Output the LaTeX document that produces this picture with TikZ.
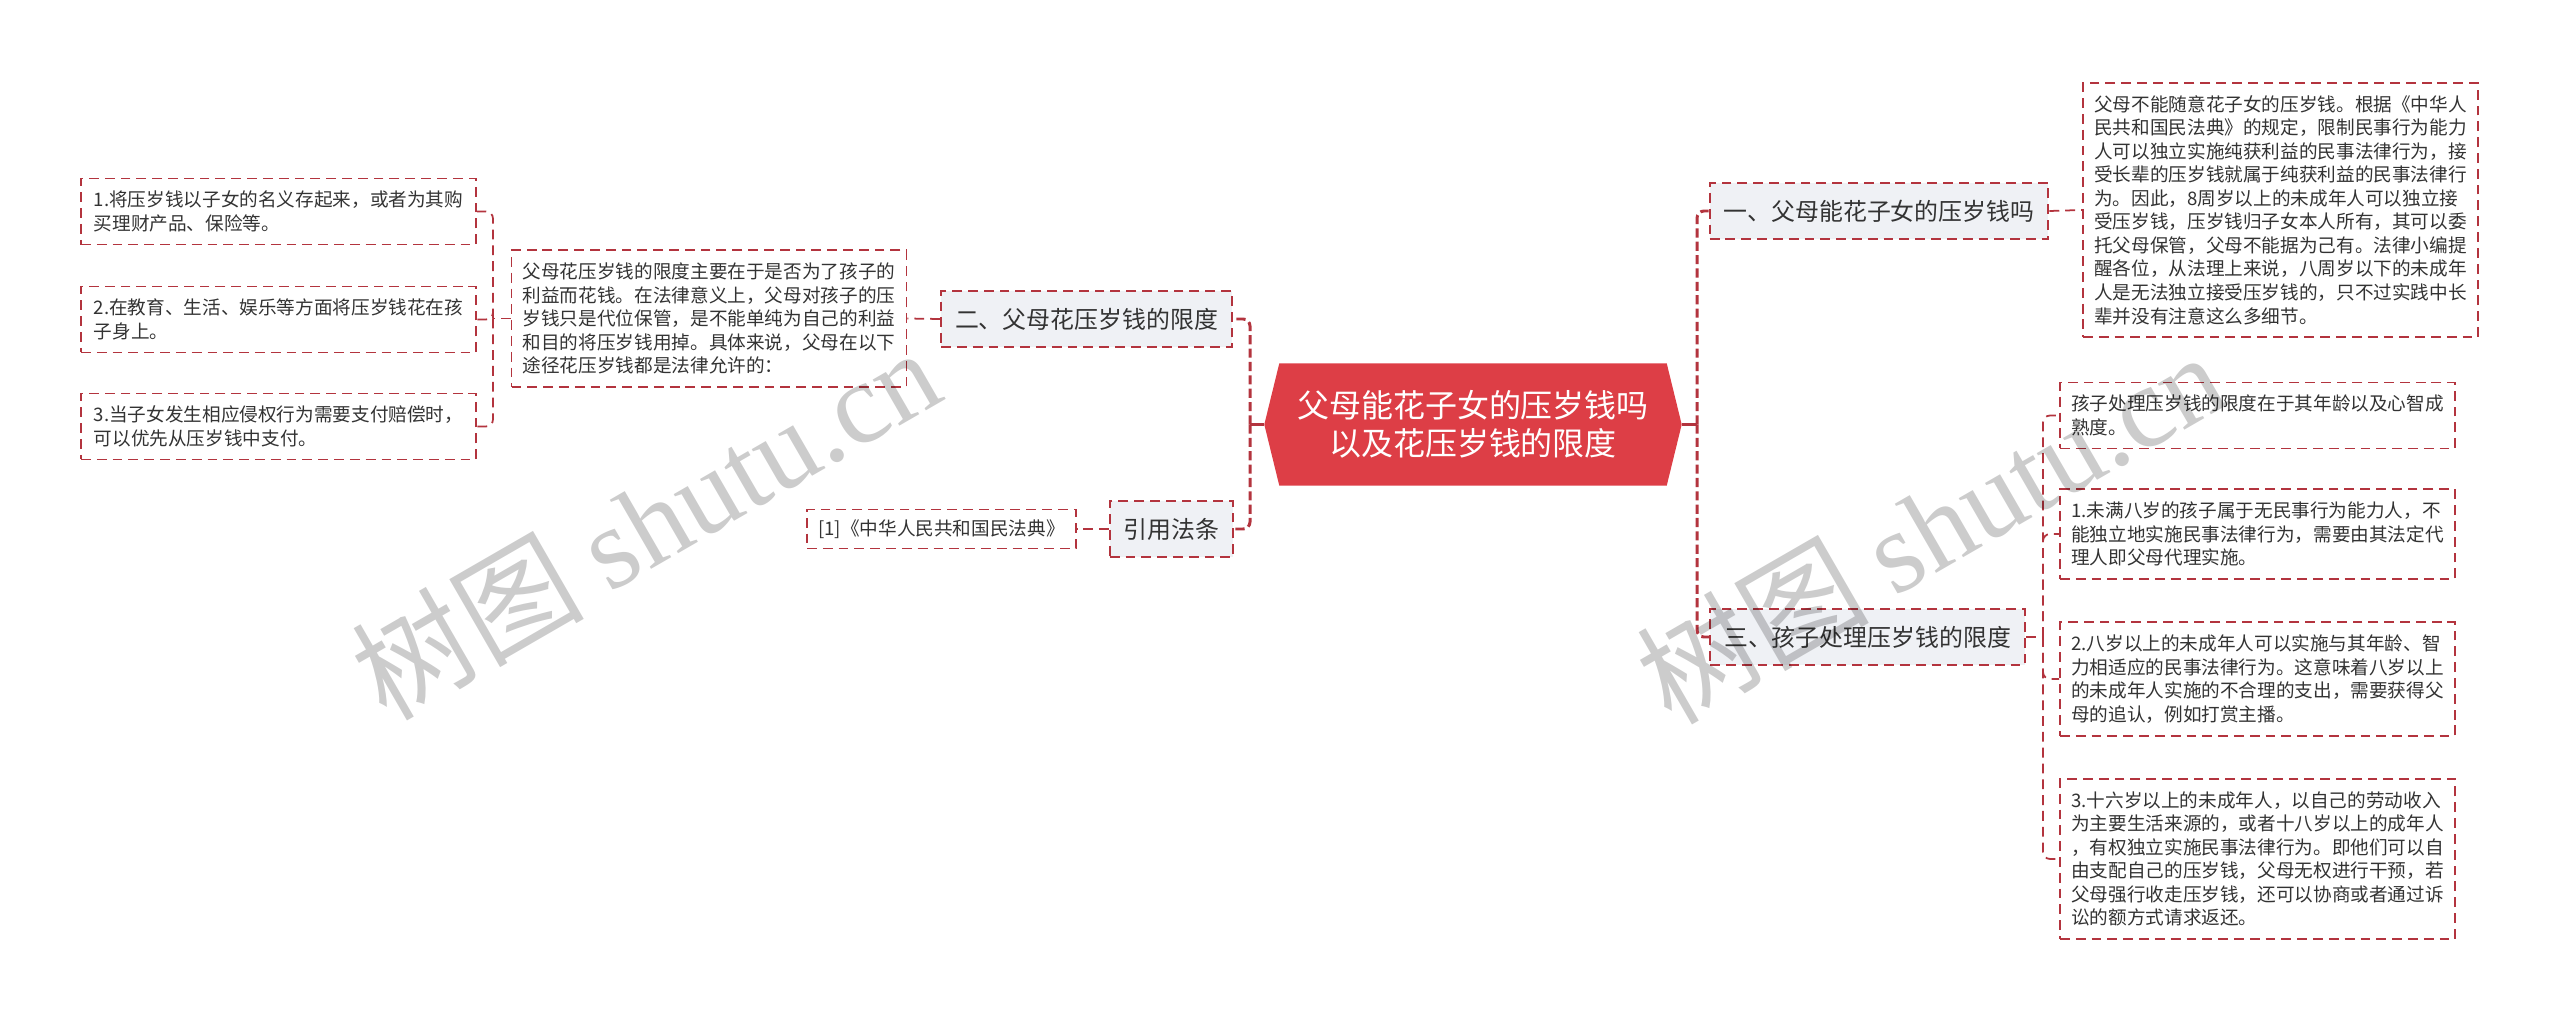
\documentclass[tikz,border=0pt]{standalone}
\usepackage{fontspec}
\setmainfont{Noto Sans CJK SC}
\newfontfamily\wmfont{Liberation Serif}
\usetikzlibrary{backgrounds,calc}

\definecolor{rootred}{HTML}{DD3E46}
\definecolor{linkred}{HTML}{B3343E}
\definecolor{branchfill}{HTML}{EFF1F5}
\definecolor{inkgray}{HTML}{333333}

\begin{document}
\begin{tikzpicture}[
  rootbox/.style={align=center, text=white, font=\fontsize{9.1pt}{10.8pt}\selectfont, minimum width=4.16cm, minimum height=1.21cm, inner sep=0pt},
  branch/.style={rectangle, draw=linkred, fill=branchfill, line width=0.6pt, dash pattern=on 2.8pt off 1.7pt, font=\fontsize{6.8pt}{8pt}\selectfont, text=inkgray, minimum height=0.56cm, inner xsep=0.14cm, inner ysep=0pt},
  leaf/.style={rectangle, draw=linkred, line width=0.5pt, dash pattern=on 2.8pt off 1.7pt, align=left, font=\fontsize{5.3pt}{6.7pt}\selectfont, text=inkgray, minimum width=3.95cm, inner xsep=0.1cm, inner ysep=0.125cm},
  trunk/.style={draw=linkred, line width=0.85pt, dash pattern=on 2.6pt off 1.2pt, rounded corners=2pt},
  link/.style={draw=linkred, line width=0.5pt, dash pattern=on 2.8pt off 1.7pt, rounded corners=2pt},
  watermark/.style={font=\fontsize{33pt}{33pt}\selectfont, text=black, text opacity=0.2, rotate=30},
]
\useasboundingbox (0,0) rectangle (25.6,-10.22);

% === ROOT ===
\node[rootbox] (root) at (14.73,-4.245) {父母能花子女的压岁钱吗\\以及花压岁钱的限度};
\begin{scope}[on background layer]
\fill[rootred] (root.west) -- ([xshift=0.15cm]root.north west) -- ([xshift=-0.15cm]root.north east) -- (root.east) -- ([xshift=-0.15cm]root.south east) -- ([xshift=0.15cm]root.south west) -- cycle;
\end{scope}

% === RIGHT SIDE ===
\node[branch] (b1) at (18.79,-2.11) {一、父母能花子女的压岁钱吗};
\node[branch] (b3) at (18.675,-6.37) {三、孩子处理压岁钱的限度};

\node[leaf] (r1) at (22.805,-2.10) {父母不能随意花子女的压岁钱。根据《中华人\\民共和国民法典》的规定，限制民事行为能力\\人可以独立实施纯获利益的民事法律行为，接\\受长辈的压岁钱就属于纯获利益的民事法律行\\为。因此，8周岁以上的未成年人可以独立接\\受压岁钱，压岁钱归子女本人所有，其可以委\\托父母保管，父母不能据为己有。法律小编提\\醒各位，从法理上来说，八周岁以下的未成年\\人是无法独立接受压岁钱的，只不过实践中长\\辈并没有注意这么多细节。};

\node[leaf] (r2) at (22.575,-4.155) {孩子处理压岁钱的限度在于其年龄以及心智成\\熟度。};
\node[leaf] (r3) at (22.575,-5.34) {1.未满八岁的孩子属于无民事行为能力人，不\\能独立地实施民事法律行为，需要由其法定代\\理人即父母代理实施。};
\node[leaf] (r4) at (22.575,-6.79) {2.八岁以上的未成年人可以实施与其年龄、智\\力相适应的民事法律行为。这意味着八岁以上\\的未成年人实施的不合理的支出，需要获得父\\母的追认，例如打赏主播。};
\node[leaf] (r5) at (22.575,-8.59) {3.十六岁以上的未成年人，以自己的劳动收入\\为主要生活来源的，或者十八岁以上的成年人\\，有权独立实施民事法律行为。即他们可以自\\由支配自己的压岁钱，父母无权进行干预，若\\父母强行收走压岁钱，还可以协商或者通过诉\\讼的额方式请求返还。};

% === LEFT SIDE ===
\node[branch] (b2) at (10.865,-3.19) {二、父母花压岁钱的限度};
\node[branch] (b4) at (11.715,-5.29) {引用法条};

\node[leaf] (l0) at (7.09,-3.185) {父母花压岁钱的限度主要在于是否为了孩子的\\利益而花钱。在法律意义上，父母对孩子的压\\岁钱只是代位保管，是不能单纯为自己的利益\\和目的将压岁钱用掉。具体来说，父母在以下\\途径花压岁钱都是法律允许的：};
\node[leaf] (l1) at (2.785,-2.115) {1.将压岁钱以子女的名义存起来，或者为其购\\买理财产品、保险等。};
\node[leaf] (l2) at (2.785,-3.195) {2.在教育、生活、娱乐等方面将压岁钱花在孩\\子身上。};
\node[leaf] (l3) at (2.785,-4.265) {3.当子女发生相应侵权行为需要支付赔偿时，\\可以优先从压岁钱中支付。};
\node[leaf, minimum width=2.69cm, inner ysep=0.1cm] (c1) at (9.415,-5.29) {[1]《中华人民共和国民法典》};

% === CONNECTORS ===
\coordinate (rtrunk) at (16.97,-4.245);
\coordinate (ltrunk) at (12.50,-4.245);
\coordinate (b3j) at (20.43,-6.37);
\coordinate (l0j) at (4.93,-3.185);

\draw[linkred, line width=0.85pt] (root.east) -- (rtrunk);
\draw[trunk] (rtrunk) |- (b1.west);
\draw[trunk] (rtrunk) |- (b3.west);
\draw[linkred, line width=0.85pt] (root.west) -- (ltrunk);
\draw[trunk] (ltrunk) |- (b2.east);
\draw[trunk] (ltrunk) |- (b4.east);

\draw[link] (b1.east) -- (r1.west);
\draw[link] (b3.east) -- (b3j);
\draw[link] (b3j) |- (r2.west);
\draw[link] (b3j) |- (r3.west);
\draw[link] (b3j) |- (r4.west);
\draw[link] (b3j) |- (r5.west);

\draw[link] (b2.west) -- (l0.east);
\draw[link] (l0.west) -- (l0j);
\draw[link] (l0j) |- (l1.east);
\draw[link] (l0j) |- (l2.east);
\draw[link] (l0j) |- (l3.east);
\draw[link] (b4.west) -- (c1.east);

% watermarks
\node[watermark] (wm1) at (6.45,-5.22) {树图 {\wmfont shutu.cn}};
\node[watermark] (wm2) at (19.30,-5.26) {树图 {\wmfont shutu.cn}};
\end{tikzpicture}
\end{document}
